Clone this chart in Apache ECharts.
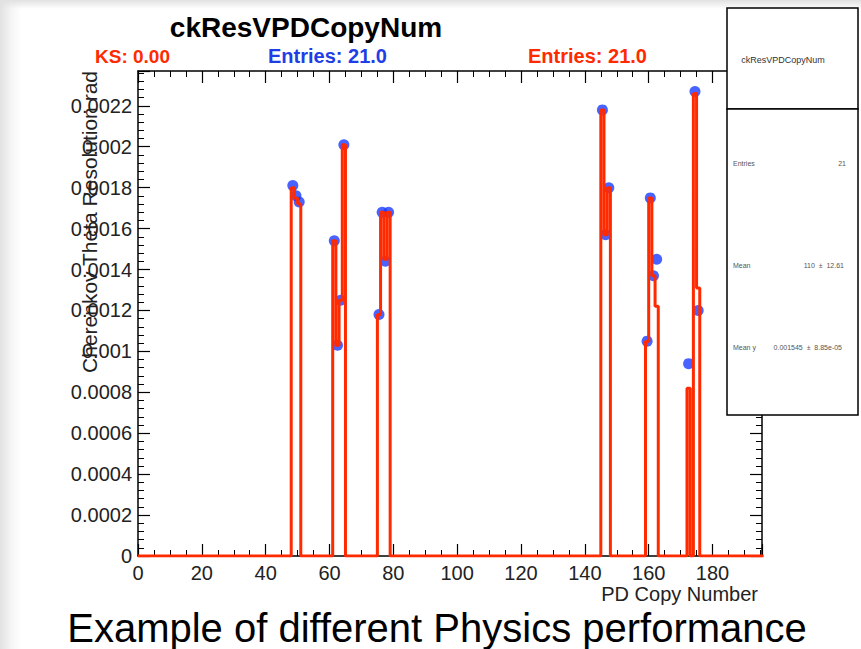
<!DOCTYPE html>
<html>
<head>
<meta charset="utf-8">
<script src="https://cdn.jsdelivr.net/npm/echarts@6/dist/echarts.min.js"></script>
<style>
  html, body { margin: 0; padding: 0; }
  body {
    width: 861px; height: 649px; overflow: hidden;
    background:
      linear-gradient(to bottom, rgba(225,225,225,1) 0px, rgba(255,255,255,0) 9px),
      linear-gradient(to right, #e2e2e2 0px, #f6f6f6 12px, #ffffff 22px);
  }
  #main { width: 861px; height: 649px; }
</style>
</head>
<body>
<div id="main"></div>
<script>
// red histogram (reference): bin low edge -> content
var redBins   = [48, 49, 50, 61, 62, 63, 64, 75, 76, 77, 78, 145, 146, 147, 159, 160, 161, 162, 172, 174, 175];
var redValues = [0.00180, 0.00175, 0.00172, 0.00154, 0.00103, 0.00125, 0.00201, 0.00118, 0.00168, 0.00145, 0.00168,
                 0.00218, 0.00157, 0.00180, 0.00105, 0.00175, 0.00137, 0.00122, 0.00082, 0.00226, 0.00131];

// blue markers (new): bin centre -> value
var blueX = [48.5, 49.5, 50.5, 61.5, 62.5, 63.5, 64.5, 75.5, 76.5, 77.5, 78.5, 145.5, 146.5, 147.5, 159.5, 160.5, 161.5, 162.5, 172.5, 174.5, 175.5];
var blueY = [0.00181, 0.00176, 0.00173, 0.00154, 0.00103, 0.00125, 0.00201, 0.00118, 0.00168, 0.00144, 0.00168,
             0.00218, 0.00157, 0.00180, 0.00105, 0.00175, 0.00137, 0.00145, 0.00094, 0.00227, 0.00120];

var nBins = 196;
var xMax = 195.5;
var yMax = 0.00237;
var yStep = 0.0002;

var FONT = 'Liberation Sans, Arial, Helvetica, sans-serif';

// histogram contents -> step outline
var contents = [];
for (var i = 0; i < nBins; i++) contents.push(0);
redBins.forEach(function (b, k) { contents[b] = redValues[k]; });
var stepPts = [];
contents.forEach(function (c, b) {
    stepPts.push([b, c]);
    stepPts.push([b + 1, c]);
});

var bluePts = blueX.map(function (x, k) { return [x, blueY[k]]; });

function xLab(v) {
    if (Math.abs(v / 20 - Math.round(v / 20)) > 1e-6) return '';
    return String(Math.round(v));
}
function yLab(v) {
    var k = Math.round(v / yStep);
    if (Math.abs(v - k * yStep) > 1e-9) return '';
    if (k === 0) return '0';
    return String(parseFloat((k * yStep).toFixed(4)));
}

var tickCol = '#000';
function xAx(pos, showLab) {
    return {
        type: 'value', position: pos, min: 0, max: xMax, interval: 20,
        axisLine: { show: true, onZero: false, lineStyle: { color: tickCol, width: 1.5 } },
        axisTick: { show: true, inside: true, length: 12, lineStyle: { color: tickCol, width: 1.2 } },
        minorTick: { show: true, splitNumber: 4, length: 6, lineStyle: { color: tickCol, width: 1 } },
        axisLabel: { show: showLab, formatter: xLab, fontSize: 20, color: '#222', fontFamily: FONT, margin: 7 },
        splitLine: { show: false }
    };
}
function yAx(pos, showLab) {
    return {
        type: 'value', position: pos, min: 0, max: yMax, interval: yStep,
        axisLine: { show: true, onZero: false, lineStyle: { color: tickCol, width: 1.5 } },
        axisTick: { show: true, inside: true, length: 12, lineStyle: { color: tickCol, width: 1.2 } },
        minorTick: { show: true, splitNumber: 5, length: 6, lineStyle: { color: tickCol, width: 1 } },
        axisLabel: { show: showLab, formatter: yLab, fontSize: 20, color: '#222', fontFamily: FONT, margin: 6 },
        splitLine: { show: false }
    };
}

function txt(x, y, s, size, color, align, bold, extra) {
    var o = {
        type: 'text', x: x, y: y, z: 100,
        style: {
            text: s, fontSize: size, fill: color, fontFamily: FONT,
            fontWeight: bold ? 'bold' : 'normal',
            textAlign: align, textVerticalAlign: 'middle'
        }
    };
    if (extra) for (var k in extra) o[k] = extra[k];
    return o;
}

var chart = echarts.init(document.getElementById('main'), null, { renderer: 'svg' });
chart.setOption({
    animation: false,
    backgroundColor: 'transparent',
    grid: { left: 138, top: 71, width: 624, height: 485, outerBoundsMode: 'none' },
    xAxis: [xAx('bottom', true), xAx('top', false)],
    yAxis: [yAx('left', true), yAx('right', false)],
    series: [
        {
            type: 'scatter', xAxisIndex: 0, yAxisIndex: 0,
            data: bluePts, symbolSize: 11, z: 2,
            itemStyle: { color: '#1a3cff' }
        },
        {
            type: 'line', xAxisIndex: 0, yAxisIndex: 0,
            data: stepPts, showSymbol: false, z: 3,
            lineStyle: { color: '#ff2a00', width: 3 }
        }
    ],
    graphic: [
        // header
        txt(306, 27, 'ckResVPDCopyNum', 28, '#000', 'center', true),
        txt(95, 56, 'KS: 0.00', 19, '#ff2a00', 'left', true),
        txt(268, 56, 'Entries: 21.0', 20, '#1f3ee6', 'left', true),
        txt(528, 56, 'Entries: 21.0', 20, '#ff2a00', 'left', true),
        // axis titles
        txt(758, 594, 'PD Copy Number', 20, '#222', 'right', false),
        txt(89, 71, 'Cherenkov Theta Resolution rad', 21, '#222', 'right', false, { rotation: Math.PI / 2 }),
        // stats box
        {
            type: 'rect', z: 90,
            shape: { x: 727, y: 8, width: 131, height: 101 },
            style: { fill: '#fff', stroke: '#000', lineWidth: 1.5 }
        },
        {
            type: 'rect', z: 90,
            shape: { x: 727, y: 109, width: 131, height: 306 },
            style: { fill: '#fff', stroke: '#000', lineWidth: 1.5 }
        },
        txt(783, 60, 'ckResVPDCopyNum', 9, '#333', 'center', false),
        txt(733, 163, 'Entries', 7, '#555', 'left', false),
        txt(846, 163, '21', 7, '#555', 'right', false),
        txt(733, 265, 'Mean', 7, '#555', 'left', false),
        txt(844, 265, '110  \u00b1  12.61', 7, '#555', 'right', false),
        txt(733, 347, 'Mean y', 7, '#555', 'left', false),
        txt(842, 347, '0.001545  \u00b1  8.85e-05', 7, '#555', 'right', false),
        // caption
        txt(437, 628, 'Example of different Physics performance', 40, '#000', 'center', false)
    ]
});
</script>
</body>
</html>
